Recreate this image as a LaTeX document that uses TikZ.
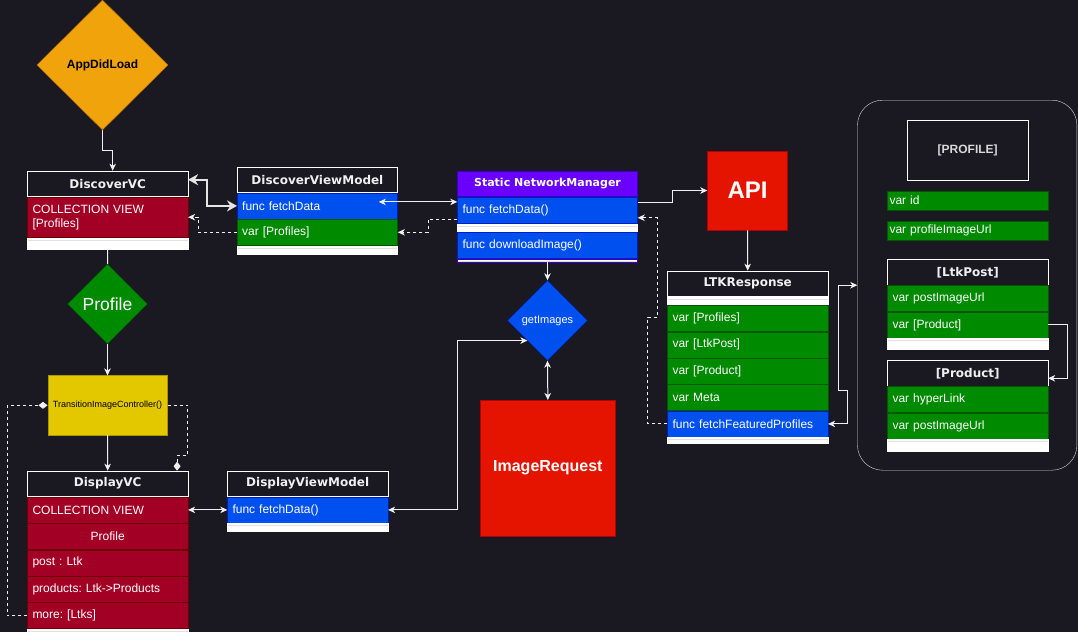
\documentclass[tikz,border=0pt]{standalone}
\usepackage{fontspec}
\setmainfont{Liberation Sans}
\newfontfamily\hdfont{DejaVu Sans}
\frenchspacing
\usetikzlibrary{arrows.meta,shapes.geometric,positioning}
\definecolor{bgc}{RGB}{26,24,32}
\definecolor{crim}{HTML}{A20025}
\definecolor{crimB}{HTML}{6F0000}
\definecolor{blu}{HTML}{0050EF}
\definecolor{bluB}{HTML}{001DBC}
\definecolor{grn}{HTML}{008A00}
\definecolor{grnB}{HTML}{005700}
\definecolor{pur}{HTML}{6A00FF}
\definecolor{purB}{HTML}{3700CC}
\definecolor{redd}{HTML}{E51400}
\definecolor{reddB}{HTML}{B20000}
\definecolor{orng}{HTML}{F0A30A}
\definecolor{orngB}{HTML}{BD7000}
\definecolor{yel}{HTML}{E3C800}
\definecolor{yelB}{HTML}{B09500}
\begin{document}
\begin{tikzpicture}[x=1pt, y=-1pt,
	every node/.style={inner sep=0},
	>={Stealth[length=7pt,width=6.5pt,inset=2pt]},
	head/.style={draw=white, fill=bgc, minimum width=160.4, minimum height=25.6, text=white!94!black, font=\hdfont\bfseries\fontsize{12}{14}\selectfont},
	field/.style={draw=#1B, fill=#1, minimum height=26, text width=150.4, inner xsep=5, align=left, text=white, font=\fontsize{12}{14}\selectfont},
	bar/.style={field=grn, minimum height=19.5, text width=156.4, inner xsep=2},
	tail/.style={fill=white, draw=white, minimum width=160.4, minimum height=#1, path picture={\draw[black!12, line width=0.8pt] ([yshift=-2.5pt]path picture bounding box.north west) -- ([yshift=-2.5pt]path picture bounding box.north east);}},
	box/.style={draw=#1B, fill=#1, text=white},
	dia/.style={diamond, draw=#1B, fill=#1, text=white},
	link/.style={draw=white!94!black, line width=1pt, ->},
	dashed3/.style={dash pattern=on 3pt off 3pt},
	fat/.style={draw=white!90!black, line width=2.4pt, {Stealth[length=10pt,width=11pt]}-{Stealth[length=10pt,width=11pt]}},
	diam/.style={-{Diamond[length=9pt,width=7pt]}}]
	\useasboundingbox (0,0) rectangle (1078,632);
	\fill[bgc] (0,0) rectangle (1078,632);

	\node[dia=orng, text=black, minimum width=131, minimum height=130, font=\bfseries\fontsize{12}{14}\selectfont] (adl) at (102.5,65) {AppDidLoad};

	\node[head, anchor=north west] (dvc) at (27.3,170.7) {DiscoverVC};
	\node[field=crim, minimum height=40.6, below=0pt of dvc] (dvcC) {COLLECTION VIEW\\{[Profiles]}};
	\node[tail=11.6, below=0pt of dvcC] (dvcT) {};

	\node[head, anchor=north west] (dvm) at (237,166.7) {DiscoverViewModel};
	\node[field=blu, below=0pt of dvm] (dvmF) {func fetchData};
	\node[field=grn, below=0pt of dvmF] (dvmV) {var [Profiles]};
	\node[tail=8.4, below=0pt of dvmV] (dvmT) {};

	\node[head, fill=pur, draw=purB, text=white, minimum width=180, anchor=north west, font=\hdfont\bfseries\fontsize{11}{13}\selectfont] (nm) at (457.3,170.7) {Static NetworkManager};
	\node[field=blu, text width=170, minimum height=26.7, below=0pt of nm] (nmF) {func fetchData()};
	\node[tail=7.3, minimum width=180, below=0pt of nmF] (nmS) {};
	\node[field=blu, text width=170, minimum height=26.7, below=0pt of nmS] (nmD) {func downloadImage()};
	\node[tail=3.3, draw=purB, minimum width=180, below=0pt of nmD] (nmT) {};

	\node[box=redd, minimum width=80, minimum height=79.3, anchor=north west, font=\bfseries\fontsize{24}{28}\selectfont] (api) at (707.3,150.7) {API};

	\node[head, anchor=north west] (ltk) at (667.3,270.7) {LTKResponse};
	\node[tail=8, below=0pt of ltk] (ltkS) {};
	\node[field=grn, below=0pt of ltkS] (ltkP) {var [Profiles]};
	\node[field=grn, below=0pt of ltkP] (ltkL) {var [LtkPost]};
	\node[field=grn, below=0pt of ltkL] (ltkR) {var [Product]};
	\node[field=grn, below=0pt of ltkR] (ltkM) {var Meta};
	\node[field=blu, below=0pt of ltkM] (ltkF) {func fetchFeaturedProfiles};
	\node[tail=6, below=0pt of ltkF] (ltkT) {};

	\node[draw=white!85!black, rounded corners=25pt, minimum width=219.4, minimum height=370, anchor=north west] (prof) at (857.3,100) {};
	\node[draw=white, fill=bgc, minimum width=120.4, minimum height=60.3, anchor=north west, text=white!85!black, font=\bfseries\fontsize{12}{14}\selectfont] (pH) at (907.3,120) {[PROFILE]};
	\node[bar, anchor=north west] (pId) at (887.3,190.7) {var id};
	\node[bar, anchor=north west] (pUrl) at (887.3,220.7) {var profileImageUrl};

	\node[head, anchor=north west] (ltp) at (887.3,259.3) {[LtkPost]};
	\node[field=grn, below=0pt of ltp] (ltpU) {var postImageUrl};
	\node[field=grn, below=0pt of ltpU] (ltpP) {var [Product]};
	\node[tail=11, below=0pt of ltpP] (ltpT) {};

	\node[head, anchor=north west] (prd) at (887.3,360.3) {[Product]};
	\node[field=grn, below=0pt of prd] (prdH) {var hyperLink};
	\node[field=grn, below=0pt of prdH] (prdU) {var postImageUrl};
	\node[tail=12, below=0pt of prdU] (prdT) {};

	\node[dia=grn, minimum width=80, minimum height=80, font=\fontsize{17.5}{20}\selectfont] (pro) at (107.5,304) {Profile};
	\node[box=yel, text=black, minimum width=119.6, minimum height=59.3, font=\fontsize{9}{11}\selectfont] (tic) at (107.5,405.3) {TransitionImageController()};

	\node[head, anchor=north west] (dsp) at (27.3,470.7) {DisplayVC};
	\node[field=crim, below=0pt of dsp] (dspC) {COLLECTION VIEW};
	\node[field=crim, align=center, below=0pt of dspC] (dspP) {Profile};
	\node[field=crim, below=0pt of dspP] (dspL) {post : Ltk};
	\node[field=crim, below=0pt of dspL] (dspR) {products: Ltk->Products};
	\node[field=crim, below=0pt of dspR] (dspM) {more: [Ltks]};
	\node[tail=8, below=0pt of dspM] (dspT) {};

	\node[head, anchor=north west] (dsvm) at (227.3,470.7) {DisplayViewModel};
	\node[field=blu, below=0pt of dsvm] (dsvmF) {func fetchData()};
	\node[tail=8, below=0pt of dsvmF] (dsvmT) {};

	\node[dia=blu, minimum width=80, minimum height=80, font=\fontsize{11}{13}\selectfont] (gi) at (547.5,320.5) {getImages};
	\node[box=redd, minimum width=135.3, minimum height=135.7, anchor=north west, font=\bfseries\fontsize{16}{19}\selectfont] (ir) at (480,400) {ImageRequest};

	\draw[link] (adl.south) -- ++(0,20) -| ([xshift=5]dvc.north);
	\draw[fat] ([yshift=4]dvc.east) -- ++(19,0) |- (dvmF.west);
	\draw[link, dashed3] (dvmV.west) -- ++(-39,0) |- (dvcC.east);
	\draw[link, <->] ([xshift=-19,yshift=4]dvmF.east) -- ([yshift=4]dvmF.east -| nmF.west);
	\draw[link, dashed3] ([yshift=-9]nmF.west) -- ++(-29,0) |- (dvmV.east);
	\draw[link] ([yshift=8]nmF.east) -- ++(35,0) |- (api.west);
	\draw[link] (api.south) -- (ltk.north);
	\draw[link, dashed3] (ltkF.west) -- ++(-19.5,0) -- ++(0,-106.5) -- ++(9.5,0) |- ([yshift=-7.5]nmF.east);
	\draw[link, <->] (ltkF.east) -- ++(19.6,0) -- ++(0,-33) -- ++(-9.6,0) |- (prof.west);
	\draw[link] (ltpP.east) -- ++(19.3,0) |- ([yshift=-5]prd.east);
	\draw[link, -] (dvcT.south) -- (pro.north);
	\draw[link] (pro.south) -- (tic.north);
	\draw[link] (tic.south) -- (dsp.north);
	\draw[link, dashed3, diam] (dspM.west) -- ++(-20,0) |- (tic.west);
	\draw[link, dashed3, diam] (tic.east) -- ++(20,0) -- ++(0,50) -| ([xshift=-11]dsp.north east);
	\draw[link, <->] (dspC.east) -- (dsvmF.west);
	\draw[link, <->] (dsvmF.east) -- ++(69.6,0) |- (gi.south west);
	\draw[link] (nmT.south) -- (gi.north);
	\draw[link, <->] (gi.south) -- (ir.north);
\end{tikzpicture}
\end{document}
